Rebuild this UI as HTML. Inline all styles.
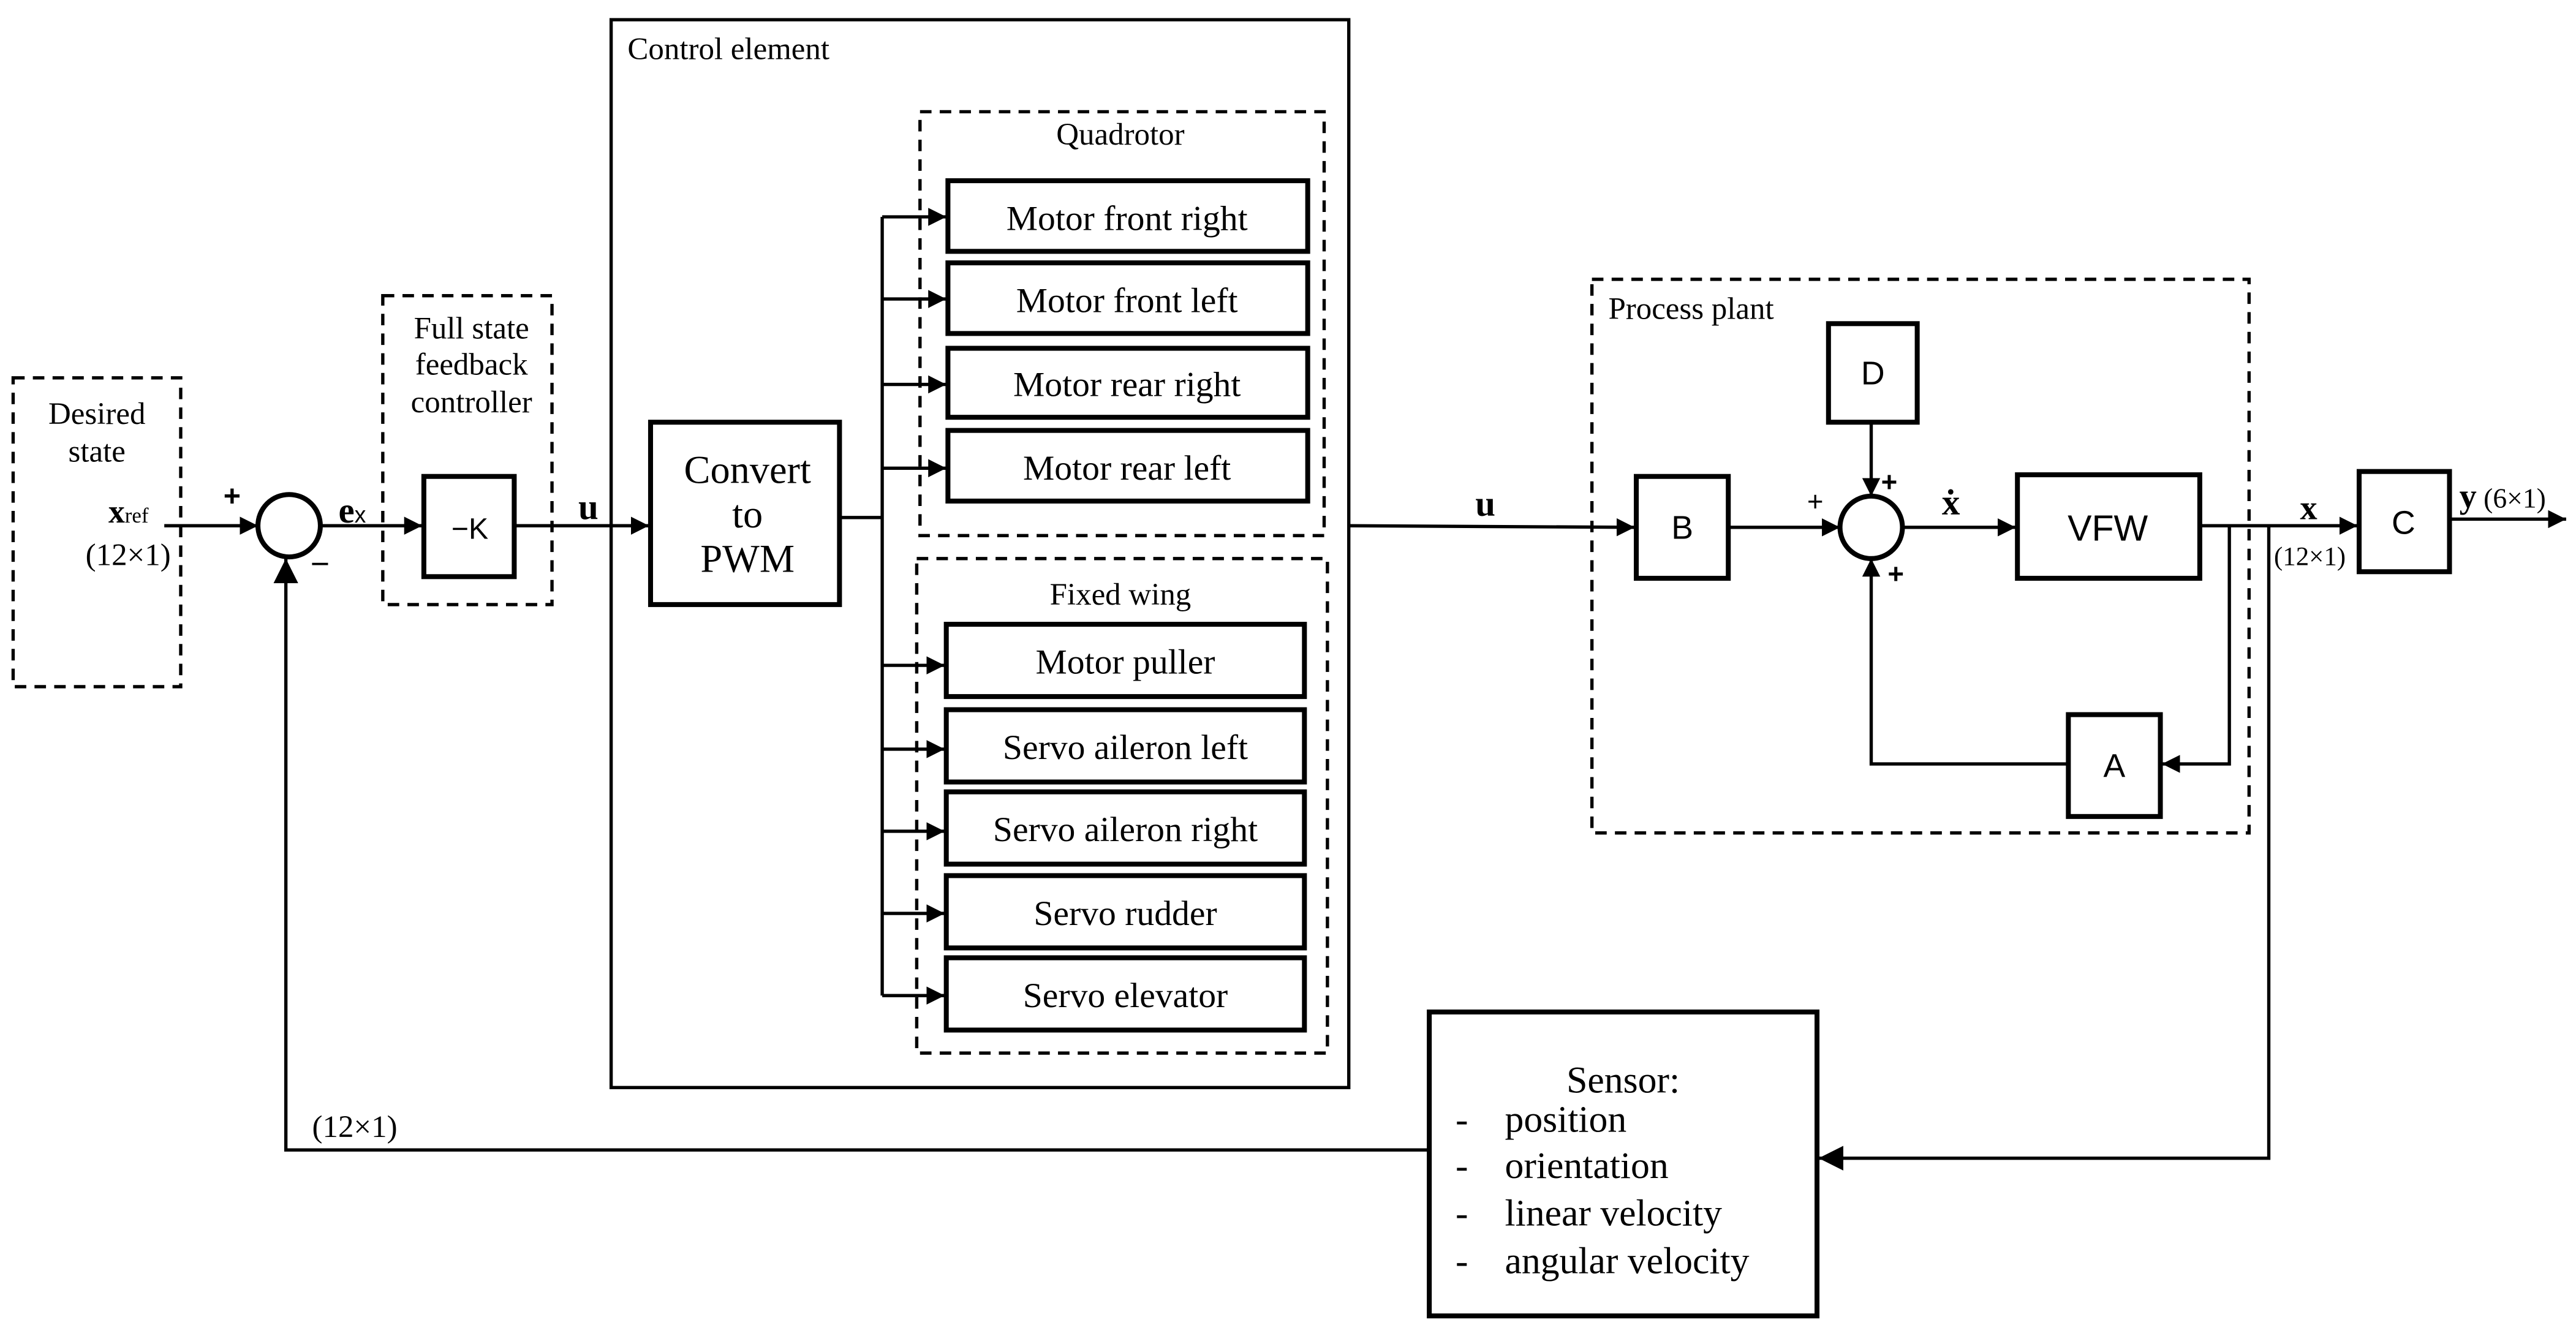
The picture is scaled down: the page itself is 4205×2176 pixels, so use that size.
<!DOCTYPE html>
<html><head><meta charset="utf-8"><style>
html,body{margin:0;padding:0;background:#fff;}
svg{display:block;}
text{font-family:"Liberation Serif",serif;fill:#000;}
.s{font-family:"Liberation Sans",sans-serif;}
</style></head><body>
<svg width="4205" height="2176" viewBox="0 0 1568 811.4" xmlns="http://www.w3.org/2000/svg">
<defs><marker id="a" viewBox="0 0 10 10" refX="10" refY="5" markerWidth="11" markerHeight="11" markerUnits="userSpaceOnUse" orient="auto"><path d="M0,0L10,5L0,10z" fill="#000"/></marker>
<marker id="b" viewBox="0 0 10 10" refX="10" refY="5" markerWidth="15" markerHeight="15" markerUnits="userSpaceOnUse" orient="auto"><path d="M0,0L10,5L0,10z" fill="#000"/></marker></defs>
<g fill="none" stroke="#000">
<g stroke-width="2" stroke-dasharray="7,5">
<rect x="8" y="230" width="102" height="188"/>
<rect x="233" y="180" width="103" height="188"/>
<rect x="560" y="68" width="246" height="258"/>
<rect x="558" y="340" width="250" height="301"/>
<rect x="969" y="170" width="400" height="337"/>
</g>
<rect x="372" y="12" width="449" height="650" stroke-width="2"/>
<g stroke-width="3">
<rect x="258" y="290" width="55" height="61"/>
<rect x="396" y="257" width="115" height="111"/>
<rect x="577" y="110" width="219" height="43"/>
<rect x="577" y="160" width="219" height="43"/>
<rect x="577" y="212" width="219" height="42"/>
<rect x="577" y="262" width="219" height="43"/>
<rect x="576" y="380" width="218" height="44"/>
<rect x="576" y="432" width="218" height="44"/>
<rect x="576" y="482" width="218" height="44"/>
<rect x="576" y="533" width="218" height="44"/>
<rect x="576" y="583" width="218" height="44"/>
<rect x="996" y="290" width="56" height="62"/>
<rect x="1113" y="197" width="54" height="60"/>
<rect x="1228" y="289" width="111" height="63"/>
<rect x="1259" y="435" width="56" height="62"/>
<rect x="1436" y="287" width="55" height="61"/>
<rect x="870" y="616" width="236" height="185"/>
<circle cx="176" cy="320" r="19"/>
<circle cx="1139" cy="321" r="19"/>
</g>
<g stroke-width="2">
<line x1="100" y1="320" x2="157" y2="320" marker-end="url(#a)"/>
<line x1="195" y1="320" x2="257" y2="320" marker-end="url(#a)"/>
<line x1="313" y1="320" x2="395" y2="320" marker-end="url(#a)"/>
<polyline points="511,315 537,315"/>
<line x1="537" y1="132" x2="537" y2="606"/>
<line x1="537" y1="132" x2="576" y2="132" marker-end="url(#a)"/>
<line x1="537" y1="182" x2="576" y2="182" marker-end="url(#a)"/>
<line x1="537" y1="234" x2="576" y2="234" marker-end="url(#a)"/>
<line x1="537" y1="285" x2="576" y2="285" marker-end="url(#a)"/>
<line x1="537" y1="405" x2="575" y2="405" marker-end="url(#a)"/>
<line x1="537" y1="456" x2="575" y2="456" marker-end="url(#a)"/>
<line x1="537" y1="506" x2="575" y2="506" marker-end="url(#a)"/>
<line x1="537" y1="556" x2="575" y2="556" marker-end="url(#a)"/>
<line x1="537" y1="606" x2="575" y2="606" marker-end="url(#a)"/>
<line x1="821" y1="320" x2="995" y2="321" marker-end="url(#a)"/>
<line x1="1052" y1="321" x2="1120" y2="321" marker-end="url(#a)"/>
<line x1="1139" y1="257" x2="1139" y2="302" marker-end="url(#a)"/>
<line x1="1158" y1="321" x2="1227" y2="321" marker-end="url(#a)"/>
<line x1="1339" y1="320" x2="1435" y2="320" marker-end="url(#a)"/>
<polyline points="1357,320 1357,465 1316,465" marker-end="url(#a)"/>
<polyline points="1259,465 1139,465 1139,340" marker-end="url(#a)"/>
<polyline points="1381,320 1381,705 1107,705" marker-end="url(#b)"/>
<line x1="1491" y1="316" x2="1562" y2="316" marker-end="url(#a)"/>
<polyline points="870,700 174,700 174,340" marker-end="url(#b)"/>
</g>
</g>
<g font-size="19" text-anchor="middle">
<text x="59" y="258">Desired</text><text x="59" y="281">state</text>
<text x="287" y="206">Full state</text><text x="287" y="228">feedback</text><text x="287" y="251">controller</text>
<text x="455" y="294" font-size="24">Convert</text><text x="455" y="321" font-size="24">to</text><text x="455" y="348" font-size="24">PWM</text>
<text x="682" y="88">Quadrotor</text>
<text x="682" y="368">Fixed wing</text>
<g font-size="21.5">
<text x="686" y="140">Motor front right</text>
<text x="686" y="190">Motor front left</text>
<text x="686" y="241">Motor rear right</text>
<text x="686" y="292">Motor rear left</text>
<text x="685" y="410">Motor puller</text>
<text x="685" y="462">Servo aileron left</text>
<text x="685" y="512">Servo aileron right</text>
<text x="685" y="563">Servo rudder</text>
<text x="685" y="613">Servo elevator</text>
</g>
<text x="988" y="665" font-size="23">Sensor:</text>
<text x="78" y="344" font-size="19">(12×1)</text>
<text x="1406" y="344" font-size="16">(12×1)</text>
<text class="s" x="286" y="328" font-size="18">−K</text>
<text class="s" x="1024" y="328" font-size="20">B</text>
<text class="s" x="1140" y="234" font-size="20">D</text>
<text class="s" x="1283" y="329" font-size="22">VFW</text>
<text class="s" x="1287" y="473" font-size="20">A</text>
<text class="s" x="1463" y="325" font-size="20">C</text>
</g>
<g font-size="19">
<text x="382" y="36">Control element</text>
<text x="979" y="194">Process plant</text>
<text x="66" y="318" font-weight="bold" font-size="20">x<tspan font-size="13" font-weight="normal">ref</tspan></text>
<text x="206" y="318" font-weight="bold" font-size="22">e<tspan font-size="14" font-weight="normal" class="s">x</tspan></text>
<text x="352" y="316" font-weight="bold" font-size="22">u</text>
<text x="898" y="314" font-weight="bold" font-size="22">u</text>
<text x="1182" y="313" font-weight="bold" font-size="22">ẋ</text>
<text x="1400" y="316" font-weight="bold" font-size="21">x</text>
<text x="1497" y="309" font-size="17"><tspan font-weight="bold" font-size="21">y</tspan> (6×1)</text>
<text x="190" y="692" font-size="19">(12×1)</text>
<text class="s" x="136" y="308" font-size="18" font-weight="bold">+</text>
<text class="s" x="189" y="350" font-size="20">−</text>
<text class="s" x="1100" y="311" font-size="17">+</text>
<text class="s" x="1145" y="299" font-size="17" font-weight="bold">+</text>
<text class="s" x="1149" y="355" font-size="17" font-weight="bold">+</text>
<g font-size="23">
<text x="886" y="689">-</text><text x="916" y="689">position</text>
<text x="886" y="717">-</text><text x="916" y="717">orientation</text>
<text x="886" y="746">-</text><text x="916" y="746">linear velocity</text>
<text x="886" y="775">-</text><text x="916" y="775">angular velocity</text>
</g>
</g>
</svg>
</body></html>
